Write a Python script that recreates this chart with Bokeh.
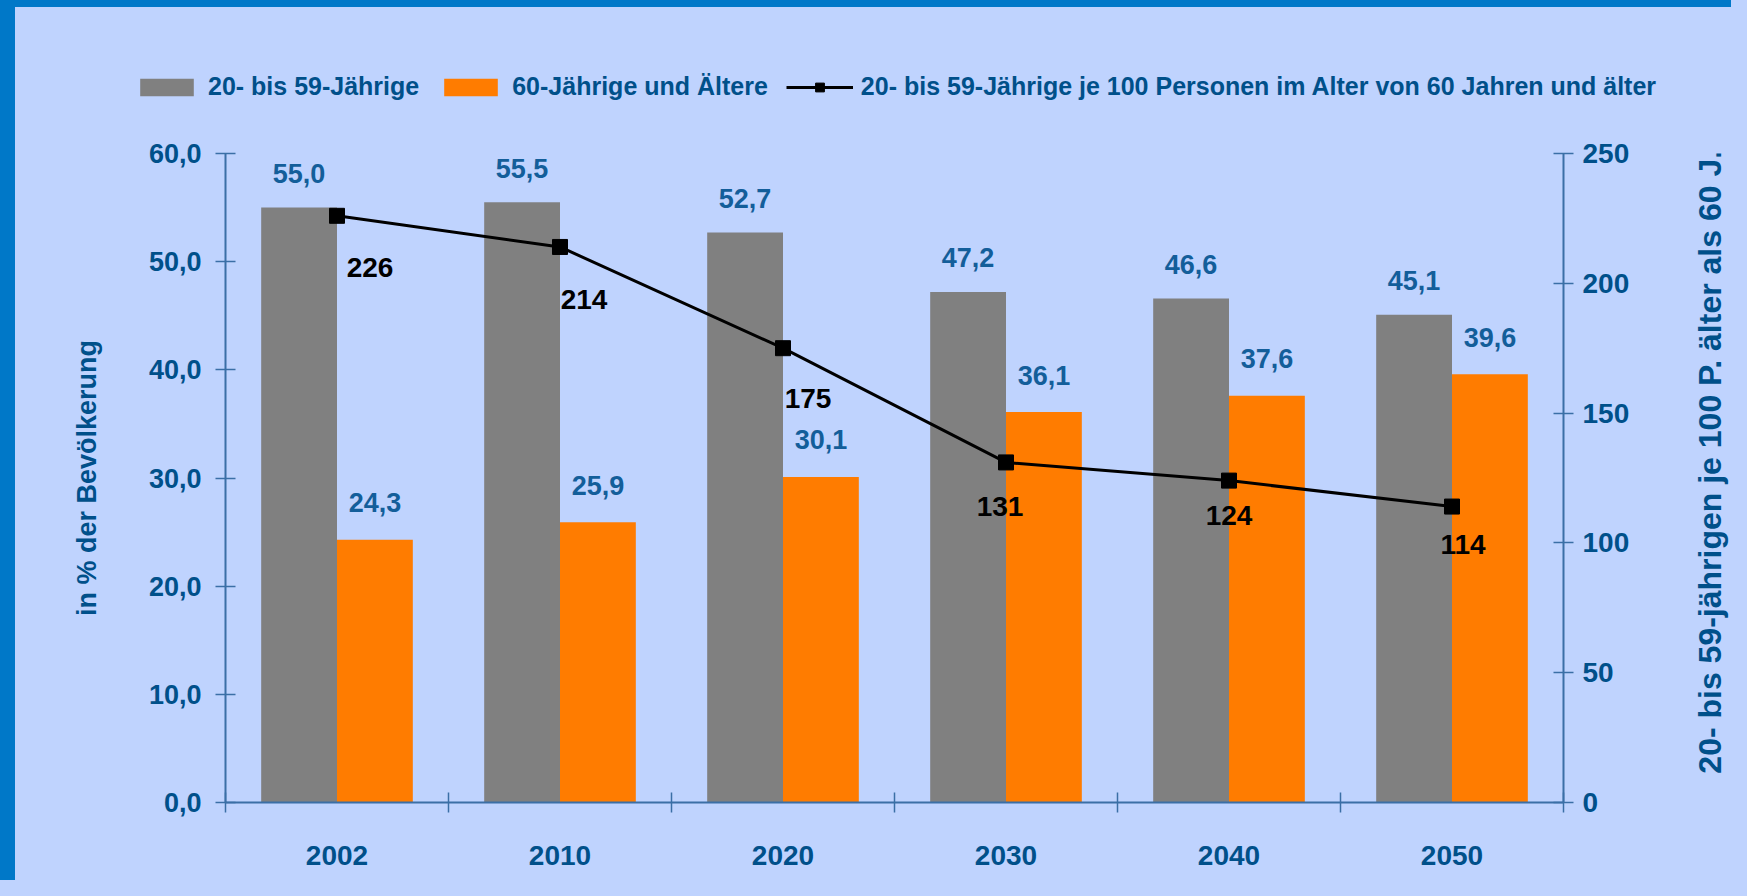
import math
from bokeh.plotting import figure
from bokeh.layouts import row
from bokeh.models import (Range1d, LinearAxis, FixedTicker, Legend, LegendItem, Label,
                          GlobalInlineStyleSheet)
from bokeh.core.properties import value
from bokeh.embed import file_html
from bokeh.resources import INLINE

# ---------------- data ----------------
years = ["2002", "2010", "2020", "2030", "2040", "2050"]
age_20_59 = [55.0, 55.5, 52.7, 47.2, 46.6, 45.1]
age_60_plus = [24.3, 25.9, 30.1, 36.1, 37.6, 39.6]
ratio = [226, 214, 175, 131, 124, 114]
left_ticks = [0, 10, 20, 30, 40, 50, 60]
left_tick_labels = ["0,0", "10,0", "20,0", "30,0", "40,0", "50,0", "60,0"]
right_ticks = [0, 50, 100, 150, 200, 250]
right_tick_labels = ["0", "50", "100", "150", "200", "250"]
series_names = ["20- bis 59-Jährige", "60-Jährige und Ältere",
                "20- bis 59-Jährige je 100 Personen im Alter von 60 Jahren und älter"]
left_title = "in % der Bevölkerung"
right_title = "20- bis 59-jährigen je 100 P. älter als 60 J."

# ---------------- style ----------------
BG = "#BFD3FE"
FRAME_BLUE = "#0078C8"
TXT = "#00508A"
VAL = "#135E9A"
AX = "#3B6FA6"
GRAY = "#808080"
ORANGE = "#FF7C00"
FONT = "Liberation Sans"
BW = 0.34
W = 1731
TOP_H = 133
MAIN_H = 880 - TOP_H
TITLE_W = 44
BORDER_TOP = 20
BORDER_BOTTOM = 78
# pixel nudges of the line's value labels (as placed in the original chart)
RATIO_LABEL_DX = [33, 24, 25, -6, 0, 11]
RATIO_LABEL_DY = [52, 53, 50, 44, 35, 38]

def fmt(v):
    return f"{v:.1f}".replace(".", ",")

n = len(years)
xc = [i + 0.5 for i in range(n)]
xg = [c - BW / 2 for c in xc]
xo = [c + BW / 2 for c in xc]

# ---------------- main chart ----------------
fig = figure(width=W - TITLE_W, height=MAIN_H, output_backend="svg", toolbar_location=None,
             x_range=Range1d(0, n), y_range=Range1d(left_ticks[0], left_ticks[-1]),
             min_border_left=225, min_border_right=W - TITLE_W - 1563,
             min_border_top=BORDER_TOP, min_border_bottom=BORDER_BOTTOM)
fig.extra_y_ranges = {"right": Range1d(right_ticks[0], right_ticks[-1])}
fig.background_fill_color = BG
fig.border_fill_color = None
fig.outline_line_color = None
fig.grid.visible = False

fig.vbar(x=xg, top=age_20_59, width=BW, bottom=0, fill_color=GRAY, line_color=None)
fig.vbar(x=xo, top=age_60_plus, width=BW, bottom=0, fill_color=ORANGE, line_color=None)

fig.text(x=xg, y=age_20_59, text=[fmt(v) for v in age_20_59], text_align="center",
         text_baseline="middle", y_offset=-34, text_color=VAL, text_font=value(FONT),
         text_font_style="bold", text_font_size="27px")
fig.text(x=xo, y=age_60_plus, text=[fmt(v) for v in age_60_plus], text_align="center",
         text_baseline="middle", y_offset=-37, text_color=VAL, text_font=value(FONT),
         text_font_style="bold", text_font_size="27px")

fig.line(x=xc, y=ratio, y_range_name="right", line_color="black", line_width=3)
fig.scatter(x=xc, y=ratio, y_range_name="right", marker="square", size=15,
            fill_color="black", line_color="black")
fig.text(x=xc, y=ratio, y_range_name="right", text=[str(v) for v in ratio],
         text_align="center", text_baseline="middle", x_offset=RATIO_LABEL_DX,
         y_offset=RATIO_LABEL_DY, text_color="black", text_font=value(FONT),
         text_font_style="bold", text_font_size="28px")

# x axis
xa = fig.xaxis[0]
xa.ticker = FixedTicker(ticks=xc, minor_ticks=list(range(n + 1)))
xa.major_label_overrides = {c: y for c, y in zip(xc, years)}
xa.major_tick_in = 0
xa.major_tick_out = 0
xa.minor_tick_in = 10
xa.minor_tick_out = 10
xa.minor_tick_line_color = AX
xa.minor_tick_line_width = 1.5
xa.axis_line_color = AX
xa.axis_line_width = 2
xa.major_label_standoff = 33
xa.major_label_text_font = FONT
xa.major_label_text_font_style = "bold"
xa.major_label_text_font_size = "28px"
xa.major_label_text_color = TXT

# left axis
ya = fig.yaxis[0]
ya.ticker = FixedTicker(ticks=left_ticks)
ya.major_label_overrides = {t: l for t, l in zip(left_ticks, left_tick_labels)}
ya.major_tick_in = 10
ya.major_tick_out = 10
ya.major_tick_line_color = AX
ya.major_tick_line_width = 1.5
ya.minor_tick_line_color = None
ya.axis_line_color = AX
ya.axis_line_width = 2
ya.major_label_standoff = 14
ya.major_label_text_font = FONT
ya.major_label_text_font_style = "bold"
ya.major_label_text_font_size = "27px"
ya.major_label_text_color = TXT
ya.axis_label = left_title
ya.axis_label_text_font = FONT
ya.axis_label_text_font_style = "bold"
ya.axis_label_text_font_size = "27px"
ya.axis_label_text_color = TXT
ya.axis_label_standoff = 44

# right axis (ticks)
ra = LinearAxis(y_range_name="right", ticker=FixedTicker(ticks=right_ticks))
ra.major_label_overrides = {t: l for t, l in zip(right_ticks, right_tick_labels)}
ra.major_tick_in = 10
ra.major_tick_out = 10
ra.major_tick_line_color = AX
ra.major_tick_line_width = 1.5
ra.minor_tick_line_color = None
ra.axis_line_color = AX
ra.axis_line_width = 2
ra.major_label_standoff = 9
ra.major_label_text_font = FONT
ra.major_label_text_font_style = "bold"
ra.major_label_text_font_size = "28px"
ra.major_label_text_color = TXT
fig.add_layout(ra, "right")

# ---------------- right title strip (reads bottom-to-top) ----------------
tf = figure(width=TITLE_W, height=MAIN_H, output_backend="svg", toolbar_location=None,
            x_range=Range1d(0, 1), y_range=Range1d(0, 1),
            x_axis_type=None, y_axis_type=None, min_border_left=0, min_border_right=0,
            min_border_top=BORDER_TOP, min_border_bottom=BORDER_BOTTOM)
tf.background_fill_color = None
tf.border_fill_color = None
tf.outline_line_color = None
tf.add_layout(Label(x=0.5, y=0.525, text=right_title, angle=math.pi / 2,
                    text_align="center", text_baseline="middle", text_font=FONT,
                    text_font_style="bold", text_font_size="32px", text_color=TXT))

# ---------------- legend strip ----------------
lf = figure(width=W, height=TOP_H, output_backend="svg", toolbar_location=None,
            x_range=Range1d(100, 101), y_range=Range1d(100, 101),
            x_axis_type=None, y_axis_type=None, min_border=0)
lf.background_fill_color = None
lf.border_fill_color = None
lf.outline_line_color = None
lg_gray = lf.vbar(x=xg, top=age_20_59, width=BW, fill_color=GRAY, line_color=None)
lg_orange = lf.vbar(x=xo, top=age_60_plus, width=BW, fill_color=ORANGE, line_color=None)
lg_line = lf.line(x=xc, y=ratio, line_color="black", line_width=3)
lg_mark = lf.scatter(x=xc, y=ratio, marker="square", size=15, fill_color="black",
                     line_color="black")

legend = Legend(items=[
    LegendItem(label=series_names[0], renderers=[lg_gray]),
    LegendItem(label=series_names[1], renderers=[lg_orange]),
    LegendItem(label=series_names[2], renderers=[lg_line, lg_mark]),
], orientation="horizontal", location=(133, 32))
legend.glyph_width = 67
legend.glyph_height = 22
legend.label_standoff = 8
legend.spacing = 18
legend.padding = 0
legend.margin = 0
legend.border_line_alpha = 0
legend.background_fill_alpha = 0
legend.label_text_font = FONT
legend.label_text_font_style = "bold"
legend.label_text_font_size = "25px"
legend.label_text_color = TXT
lf.add_layout(legend, "center")
lf.styles = {"background-color": BG,
             "box-shadow": f"inset 15px 7px 0 0 {FRAME_BLUE}"}
lf.stylesheets = [GlobalInlineStyleSheet(css=f"html, body {{ background-color: {BG}; }}")]

main = row(fig, tf, spacing=0)
main.styles = {"background-color": BG,
               "box-shadow": f"inset 15px 0 0 0 {FRAME_BLUE}"}

p = [lf, main]
open("out.html", "w").write(file_html(p, INLINE))
